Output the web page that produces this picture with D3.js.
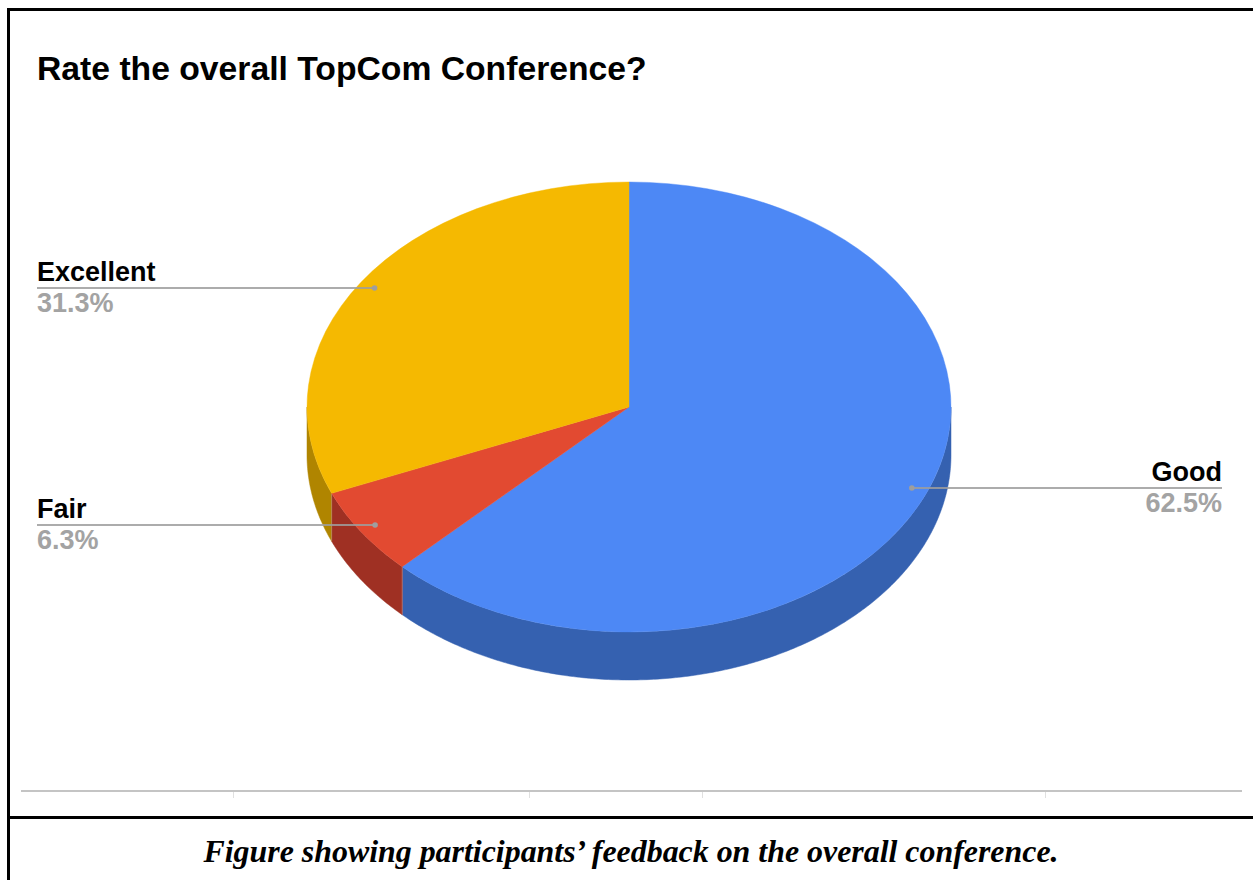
<!DOCTYPE html>
<html>
<head>
<meta charset="utf-8">
<script src="https://cdn.jsdelivr.net/npm/d3@7"></script>
<style>
  html, body { margin: 0; padding: 0; background: #fff; }
  svg { display: block; }
</style>
</head>
<body>
<svg id="chart" width="1253" height="880"></svg>
<script>
// Survey answers: "Rate the overall TopCom Conference?"
const categories = ["Good", "Fair", "Excellent"];
const shares = [62.5, 6.3, 31.3];
const percentLabels = ["62.5%", "6.3%", "31.3%"];
const topColors = ["#4d88f5", "#e24a31", "#f5b901"];
const sideColors = ["#3561b0", "#9f3023", "#b08500"];
const axisTicks = [233, 529, 702, 1045];

const W = 1253, H = 880;
const svg = d3.select("#chart");

// Frame lines
const frame = svg.append("g").attr("stroke", "#000").attr("stroke-width", 3);
frame.append("line").attr("x1", 8.5).attr("x2", 8.5).attr("y1", 8).attr("y2", H);
frame.append("line").attr("x1", 7).attr("x2", W).attr("y1", 9.5).attr("y2", 9.5);
frame.append("line").attr("x1", 7).attr("x2", W).attr("y1", 817.5).attr("y2", 817.5);

// Title
svg.append("text")
  .attr("x", 37).attr("y", 80)
  .attr("font-family", "'Liberation Sans', Arial, sans-serif")
  .attr("font-weight", "bold").attr("font-size", 33.7)
  .attr("fill", "#000")
  .text("Rate the overall TopCom Conference?");

// Empty baseline axis beneath the chart
const axisScale = d3.scaleIdentity().domain([21, 1242]);
svg.append("line")
  .attr("x1", axisScale(21)).attr("x2", axisScale(1242))
  .attr("y1", 791).attr("y2", 791)
  .attr("stroke", "#c4c4c4").attr("stroke-width", 2);
svg.append("g").selectAll("line").data(axisTicks).join("line")
  .attr("x1", d => axisScale(d) + 0.5).attr("x2", d => axisScale(d) + 0.5)
  .attr("y1", 792).attr("y2", 798)
  .attr("stroke", "#e0e0e0").attr("stroke-width", 1);

// 3D pie geometry
const cx = 629, cy = 407, rx = 322, ry = 225, depth = 48;
const pie = d3.pie().sort(null).value(d => d.v).startAngle(0).endAngle(2 * Math.PI);
const data = categories.map((c, i) => ({ c, v: shares[i], i }));
const arcs = pie(data);

const px = (a, f = 1) => cx + rx * f * Math.sin(a);
const py = (a, f = 1) => cy - ry * f * Math.cos(a);

const g = svg.append("g");

// Side walls: only the front half (from 90° to 270°) is visible
const frontStart = Math.PI / 2, frontEnd = 3 * Math.PI / 2;
function sidePath(a0, a1) {
  const s = Math.max(a0, frontStart), e = Math.min(a1, frontEnd);
  if (e <= s) return null;
  const n = Math.max(8, Math.ceil((e - s) / 0.01));
  const angles = d3.range(n + 1).map(k => s + (e - s) * k / n);
  const top = angles.map(a => [px(a), py(a)]);
  const bottom = angles.slice().reverse().map(a => [px(a), py(a) + depth]);
  return d3.line()(top.concat(bottom)) + "Z";
}
g.selectAll("path.side").data(arcs).join("path")
  .attr("class", "side")
  .attr("d", d => sidePath(d.startAngle, d.endAngle))
  .attr("fill", d => sideColors[d.data.i])
  .attr("stroke", d => sideColors[d.data.i]).attr("stroke-width", 0.5);

// Thin seam where two side walls meet
g.selectAll("line.seam").data(arcs.filter(d => d.startAngle > frontStart && d.startAngle < frontEnd)).join("line")
  .attr("class", "seam")
  .attr("x1", d => px(d.startAngle)).attr("x2", d => px(d.startAngle))
  .attr("y1", d => py(d.startAngle)).attr("y2", d => py(d.startAngle) + depth)
  .attr("stroke", "#c08a80").attr("stroke-opacity", 0.6).attr("stroke-width", 1);

// Top faces: a circular arc squashed into an ellipse
const arcGen = d3.arc().innerRadius(0).outerRadius(rx);
g.append("g")
  .attr("transform", `translate(${cx},${cy}) scale(1,${ry / rx})`)
  .selectAll("path").data(arcs).join("path")
  .attr("d", arcGen)
  .attr("fill", d => topColors[d.data.i])
  .attr("stroke", d => topColors[d.data.i]).attr("stroke-width", 0.5);

// Slice labels with leader lines
const labelFont = "'Liberation Sans', Arial, sans-serif";
const labelLayout = [
  { side: "right", lineY: 488, textX: 1222 },
  { side: "left", lineY: 525, textX: 37 },
  { side: "left", lineY: 288, textX: 37 }
];
const dotFrac = 0.95;
const labels = svg.append("g");
arcs.forEach((d, k) => {
  const L = labelLayout[k];
  const mid = (d.startAngle + d.endAngle) / 2;
  const dx = px(mid, dotFrac), dy = L.lineY;
  labels.append("line")
    .attr("x1", dx).attr("y1", dy).attr("x2", L.textX).attr("y2", dy)
    .attr("stroke", "#9e9e9e").attr("stroke-width", 2).attr("stroke-opacity", 0.85);
  labels.append("circle")
    .attr("cx", dx).attr("cy", dy).attr("r", 2.8).attr("fill", "#9e9e9e");
  const anchor = L.side === "right" ? "end" : "start";
  labels.append("text")
    .attr("x", L.textX).attr("y", dy - 7)
    .attr("text-anchor", anchor)
    .attr("font-family", labelFont).attr("font-weight", "bold").attr("font-size", 27)
    .attr("fill", "#000").text(d.data.c);
  labels.append("text")
    .attr("x", L.textX).attr("y", dy + 24)
    .attr("text-anchor", anchor)
    .attr("font-family", labelFont).attr("font-weight", "bold").attr("font-size", 27)
    .attr("fill", "#a3a3a3").text(percentLabels[d.data.i]);
});

// Caption
svg.append("text")
  .attr("x", 631).attr("y", 862)
  .attr("text-anchor", "middle")
  .attr("font-family", "'Liberation Serif', 'Times New Roman', serif")
  .attr("font-weight", "bold").attr("font-style", "italic").attr("font-size", 31.9)
  .attr("fill", "#000")
  .text("Figure showing participants’ feedback on the overall conference.");
</script>
</body>
</html>
